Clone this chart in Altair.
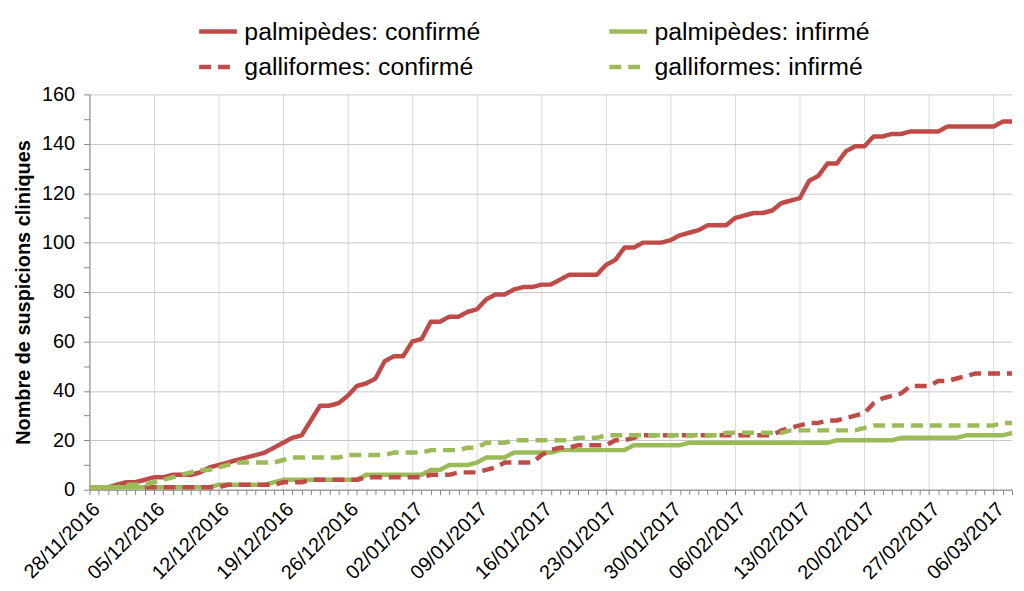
import altair as alt
import pandas as pd

# Daily dates, 28/11/2016 -> 08/03/2017
dates = [d.strftime("%Y-%m-%dT00:00:00") for d in pd.date_range("2016-11-28", "2017-03-08", freq="D")]

series_names = [
    "palmipèdes: confirmé",
    "palmipèdes: infirmé",
    "galliformes: confirmé",
    "galliformes: infirmé",
]

palm_conf = [
    1, 1, 1, 2, 3, 3, 4, 5, 5, 6,
    6, 6, 7, 9, 10, 11, 12, 13, 14, 15,
    17, 19, 21, 22, 28, 34, 34, 35, 38, 42,
    43, 45, 52, 54, 54, 60, 61, 68, 68, 70,
    70, 72, 73, 77, 79, 79, 81, 82, 82, 83,
    83, 85, 87, 87, 87, 87, 91, 93, 98, 98,
    100, 100, 100, 101, 103, 104, 105, 107, 107, 107,
    110, 111, 112, 112, 113, 116, 117, 118, 125, 127,
    132, 132, 137, 139, 139, 143, 143, 144, 144, 145,
    145, 145, 145, 147, 147, 147, 147, 147, 147, 149,
    149,
]

palm_inf = [
    1, 1, 1, 1, 1, 1, 1, 1, 1, 1,
    1, 1, 1, 1, 2, 2, 2, 2, 2, 2,
    3, 4, 4, 4, 4, 4, 4, 4, 4, 4,
    6, 6, 6, 6, 6, 6, 6, 8, 8, 10,
    10, 10, 11, 13, 13, 13, 15, 15, 15, 15,
    15, 16, 16, 16, 16, 16, 16, 16, 16, 18,
    18, 18, 18, 18, 18, 19, 19, 19, 19, 19,
    19, 19, 19, 19, 19, 19, 19, 19, 19, 19,
    19, 20, 20, 20, 20, 20, 20, 20, 21, 21,
    21, 21, 21, 21, 21, 22, 22, 22, 22, 22,
    23,
]

gall_conf = [
    None, None, None, None, None, None, 1, 1, 1, 1,
    1, 1, 1, 1, 1, 2, 2, 2, 2, 2,
    2, 3, 3, 3, 4, 4, 4, 4, 4, 4,
    5, 5, 5, 5, 5, 5, 5, 6, 6, 6,
    7, 7, 7, 8, 9, 11, 11, 11, 11, 14,
    16, 17, 17, 18, 18, 18, 18, 20, 20, 21,
    22, 22, 22, 22, 22, 22, 22, 22, 22, 22,
    22, 22, 22, 22, 22, 24, 25, 26, 27, 27,
    28, 28, 29, 30, 31, 35, 37, 38, 39, 42,
    42, 42, 44, 44, 45, 46, 47, 47, 47, 47,
    47,
]

gall_inf = [
    1, 1, 1, 1, 2, 2, 2, 3, 4, 5,
    6, 7, 8, 8, 9, 10, 11, 11, 11, 11,
    11, 12, 13, 13, 13, 13, 13, 13, 14, 14,
    14, 14, 14, 15, 15, 15, 15, 16, 16, 16,
    16, 17, 17, 19, 19, 19, 20, 20, 20, 20,
    20, 20, 20, 21, 21, 21, 22, 22, 22, 22,
    22, 22, 22, 22, 22, 22, 22, 22, 22, 23,
    23, 23, 23, 23, 23, 23, 24, 24, 24, 24,
    24, 24, 24, 24, 25, 26, 26, 26, 26, 26,
    26, 26, 26, 26, 26, 26, 26, 26, 26, 27,
    27,
]

y_ticks = list(range(0, 161, 10))

RED = "#BE4B48"
GREEN = "#9BBB59"

rows = []
for name, vals in zip(series_names, [palm_conf, palm_inf, gall_conf, gall_inf]):
    for d, v in zip(dates, vals):
        if v is not None:
            rows.append({"date": d, "value": v, "series": name})
df = pd.DataFrame(rows)

ts = pd.to_datetime(dates)
x_values = [alt.DateTime(year=int(t.year), month=int(t.month), date=int(t.day)) for t in ts]

legend = alt.Legend(
    title=None,
    orient="none",
    legendX=108,
    legendY=-85,
    direction="horizontal",
    columns=2,
    columnPadding=120,
    rowPadding=1,
    symbolType="stroke",
    symbolSize=1444,
    symbolStrokeWidth=4.5,
    labelFontSize=25,
    labelColor="#000000",
    labelOffset=5,
    labelLimit=400,
    padding=0,
)

chart = alt.Chart(df).mark_line(strokeWidth=4.5, strokeJoin="round", strokeCap="butt").encode(
    x=alt.X(
        "date:T",
        scale=alt.Scale(domain=[x_values[0], x_values[-1]], nice=False),
        axis=alt.Axis(
            title=None,
            values=x_values,
            labelExpr="day(datum.value) == 1 ? timeFormat(datum.value, '%d/%m/%Y') : ''",
            labelAngle=-45,
            labelAlign="right",
            labelBaseline="top",
            labelFontSize=20,
            labelColor="#000000",
            labelPadding=4,
            labelOverlap=False,
            labelFlush=False,
            labelBound=False,
            tickSize=5,
            tickColor="#868686",
            domainColor="#868686",
            domainWidth=1,
            gridColor="#D9D9D9",
            gridOpacity={"condition": {"test": "day(datum.value) == 1", "value": 1}, "value": 0},
        ),
    ),
    y=alt.Y(
        "value:Q",
        scale=alt.Scale(domain=[0, 160], nice=False),
        axis=alt.Axis(
            title="Nombre de suspicions cliniques",
            titleFontSize=20,
            titleFontWeight="bold",
            titleColor="#000000",
            titlePadding=8,
            values=y_ticks,
            labelExpr="datum.value % 20 == 0 ? datum.label : ''",
            labelFontSize=20,
            labelColor="#000000",
            labelPadding=9,
            tickSize=6,
            tickColor="#868686",
            domainColor="#868686",
            gridColor="#C8C8C8",
            gridOpacity={"condition": {"test": "datum.value % 20 == 0", "value": 1}, "value": 0},
        ),
    ),
    color=alt.Color(
        "series:N",
        scale=alt.Scale(domain=series_names, range=[RED, GREEN, RED, GREEN]),
        legend=legend,
    ),
    strokeDash=alt.StrokeDash(
        "series:N",
        scale=alt.Scale(domain=series_names, range=[[1, 0], [1, 0], [12, 7], [12, 7]]),
        legend=legend,
    ),
).properties(
    width=929,
    height=398,
    autosize=alt.AutoSizeParams(type="none"),
    padding={"left": 82, "top": 85, "right": 4, "bottom": 95},
).configure(
    font="Liberation Sans",
).configure_view(
    stroke=None,
)

chart.save("out.html", embed_options={"renderer": "svg", "actions": False})
